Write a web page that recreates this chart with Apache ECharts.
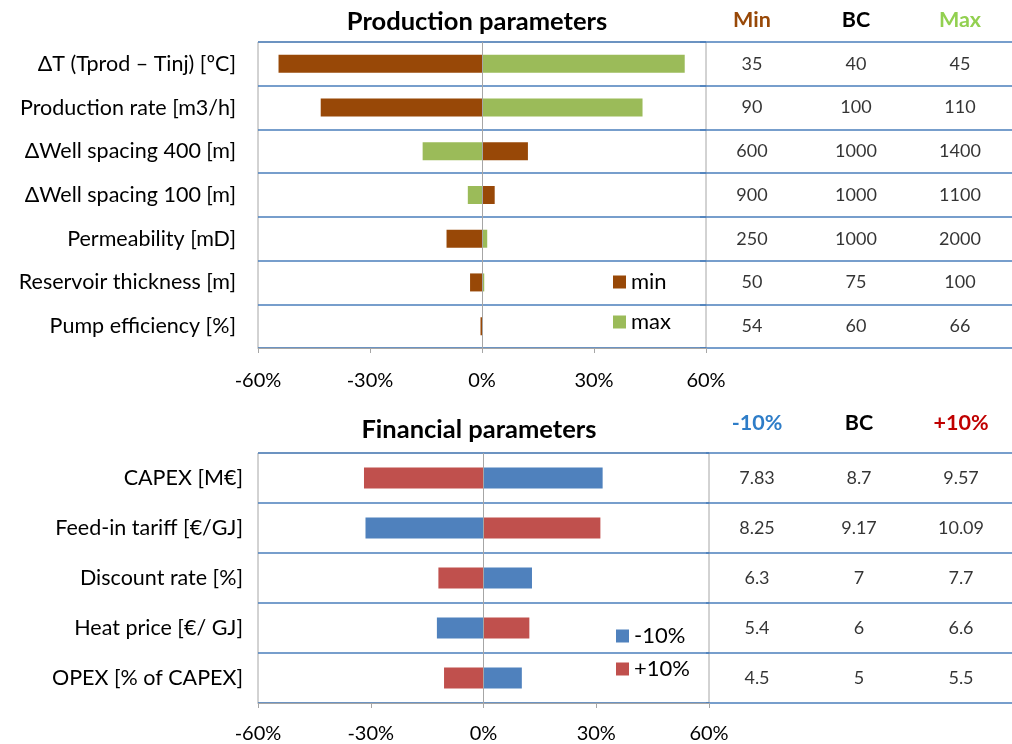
<!DOCTYPE html>
<html>
<head>
<meta charset="utf-8">
<script src="https://cdn.jsdelivr.net/npm/echarts@6/dist/echarts.min.js"></script>
<style>
  html, body { margin: 0; padding: 0; background: #fff; }
  #main { width: 1012px; height: 744px; }
</style>
</head>
<body>
<div id="main"></div>
<script>
// production parameters (change of result in %)
var prodParams = ['ΔT (Tprod – Tinj) [ºC]', 'Production rate [m3/h]', 'ΔWell spacing 400 [m]',
  'ΔWell spacing 100 [m]', 'Permeability [mD]', 'Reservoir thickness [m]', 'Pump efficiency [%]'];
var prodMin = [-54.5, -43.2, 12.3, 3.4, -9.5, -3.2, -0.4];
var prodMax = [54.3, 43.0, -15.9, -3.8, 1.4, 0.6, 0.1];
var prodCols = ['Min', 'BC', 'Max'];
var prodTabMin = ['35', '90', '600', '900', '250', '50', '54'];
var prodTabBC = ['40', '100', '1000', '1000', '1000', '75', '60'];
var prodTabMax = ['45', '110', '1400', '1100', '2000', '100', '66'];

// financial parameters
var finParams = ['CAPEX [M€]', 'Feed-in tariff [€/GJ]', 'Discount rate [%]', 'Heat price [€/ GJ]', 'OPEX [% of CAPEX]'];
var finMinus = [31.7, -31.4, 12.9, -12.4, 10.2];
var finPlus = [-31.8, 31.1, -12.0, 12.2, -10.5];
var finCols = ['-10%', 'BC', '+10%'];
var finTabMinus = ['7.83', '8.25', '6.3', '5.4', '4.5'];
var finTabBC = ['8.7', '9.17', '7', '6', '5'];
var finTabPlus = ['9.57', '10.09', '7.7', '6.6', '5.5'];

var FONT = 'Lato';
var BLUE_LINE = '#4a7ebb';
var GRAY = '#a6a6a6';

function tableData(cols) {
  // cols: list of columns, each a list of strings per row
  var out = [];
  cols.forEach(function (col, c) {
    col.forEach(function (v, r) { out.push([c, r, v]); });
  });
  return out;
}

var chart = echarts.init(document.getElementById('main'));

function valueAxis(gridIndex, margin) {
  return {
    type: 'value', gridIndex: gridIndex, min: -60, max: 60, interval: 30,
    axisLine: { show: true, lineStyle: { color: GRAY, width: 1 } },
    axisTick: { show: true, length: 5, lineStyle: { color: GRAY } },
    splitLine: { show: false },
    axisLabel: { formatter: '{value}%', fontFamily: FONT, fontSize: 20, color: '#000', margin: margin }
  };
}
function catAxis(gridIndex, data, showLabel, margin) {
  return {
    type: 'category', gridIndex: gridIndex, data: data, inverse: true,
    axisLine: { show: false }, axisTick: { show: false },
    splitLine: { show: true, lineStyle: { color: BLUE_LINE, width: 1.5 } },
    axisLabel: { show: showLabel, fontFamily: FONT, fontSize: 21.5, color: '#000', margin: margin }
  };
}
function headAxis(gridIndex, data, rich, margin) {
  return {
    type: 'category', gridIndex: gridIndex, data: data, position: 'top',
    axisLine: { show: false }, axisTick: { show: false }, splitLine: { show: false },
    axisLabel: {
      margin: margin,
      formatter: function (v) { return '{' + rich.key[v] + '|' + v + '}'; },
      rich: rich.styles
    }
  };
}
function headStyle(color) {
  return { color: color, fontFamily: FONT, fontSize: 21.5, fontWeight: 'bold' };
}

var option = {
  backgroundColor: '#fff',
  animation: false,
  title: [
    { text: 'Production parameters', left: 472, top: 4, textAlign: 'center',
      textStyle: { fontFamily: FONT, fontSize: 25.5, fontWeight: 'bold', color: '#000' } },
    { text: 'Financial parameters', left: 474, top: 412, textAlign: 'center',
      textStyle: { fontFamily: FONT, fontSize: 25.5, fontWeight: 'bold', color: '#000' } }
  ],
  grid: [
    { left: 258, top: 42, width: 448, height: 306, show: true, borderColor: GRAY, borderWidth: 1 },
    { left: 700, top: 42, width: 318, height: 306 },
    { left: 258, top: 453, width: 451, height: 250, show: true, borderColor: GRAY, borderWidth: 1 },
    { left: 706, top: 453, width: 316, height: 250 }
  ],
  legend: [
    { data: ['min', 'max'], orient: 'vertical', left: 608, top: 266, itemGap: 18,
      itemWidth: 13, itemHeight: 13, icon: 'rect',
      textStyle: { fontFamily: FONT, fontSize: 22, color: '#000' } },
    { data: ['-10%', '+10%'], orient: 'vertical', left: 611, top: 620, itemGap: 11,
      itemWidth: 13, itemHeight: 13, icon: 'rect',
      textStyle: { fontFamily: FONT, fontSize: 22, color: '#000' } }
  ],
  xAxis: [
    valueAxis(0, 23),
    headAxis(1, prodCols, {
      key: { 'Min': 'mn', 'BC': 'bc', 'Max': 'mx' },
      styles: { mn: headStyle('#984807'), bc: headStyle('#000'), mx: headStyle('#92d050') }
    }, 11),
    valueAxis(2, 21),
    headAxis(3, finCols, {
      key: { '-10%': 'mi', 'BC': 'bc', '+10%': 'pl' },
      styles: { mi: headStyle('#2e7dc8'), bc: headStyle('#000'), pl: headStyle('#c00000') }
    }, 19)
  ],
  yAxis: [
    catAxis(0, prodParams, true, 22),
    catAxis(1, prodParams, false, 0),
    catAxis(2, finParams, true, 15),
    catAxis(3, finParams, false, 0)
  ],
  series: [
    { name: 'min', type: 'bar', xAxisIndex: 0, yAxisIndex: 0, data: prodMin,
      barWidth: 18, barGap: '-100%', itemStyle: { color: '#984807' },
      markLine: { silent: true, symbol: 'none', label: { show: false },
        lineStyle: { color: GRAY, type: 'solid', width: 1 }, data: [{ xAxis: 0 }] } },
    { name: 'max', type: 'bar', xAxisIndex: 0, yAxisIndex: 0, data: prodMax,
      barWidth: 18, barGap: '-100%', itemStyle: { color: '#9bbb59' } },
    { name: '-10%', type: 'bar', xAxisIndex: 2, yAxisIndex: 2, data: finMinus,
      barWidth: 21, barGap: '-100%', itemStyle: { color: '#4f81bd' },
      markLine: { silent: true, symbol: 'none', label: { show: false },
        lineStyle: { color: GRAY, type: 'solid', width: 1 }, data: [{ xAxis: 0 }] } },
    { name: '+10%', type: 'bar', xAxisIndex: 2, yAxisIndex: 2, data: finPlus,
      barWidth: 21, barGap: '-100%', itemStyle: { color: '#c0504d' } },
    { type: 'scatter', xAxisIndex: 1, yAxisIndex: 1, symbolSize: 0, silent: true,
      data: tableData([prodTabMin, prodTabBC, prodTabMax]),
      label: { show: true, position: 'inside', fontFamily: FONT, fontSize: 18, color: '#000',
        formatter: function (p) { return p.value[2]; } } },
    { type: 'scatter', xAxisIndex: 3, yAxisIndex: 3, symbolSize: 0, silent: true,
      data: tableData([finTabMinus, finTabBC, finTabPlus]),
      label: { show: true, position: 'inside', fontFamily: FONT, fontSize: 18, color: '#000',
        formatter: function (p) { return p.value[2]; } } }
  ]
};

chart.setOption(option);
</script>
</body>
</html>
